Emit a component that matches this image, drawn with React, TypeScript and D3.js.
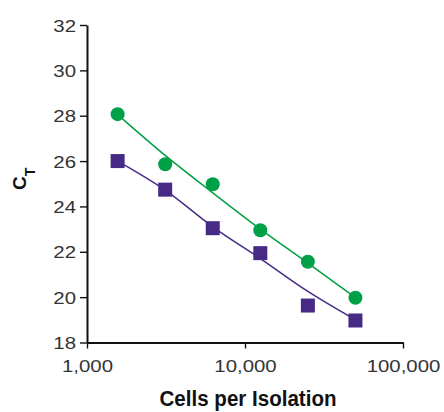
import React, { useEffect, useRef } from 'react';
import * as d3 from 'd3';

// cells per isolation (x, log scale)
const cells = [1562.5, 3125, 6250, 12500, 25000, 50000];
// measured CT values
const greenCt = [28.07, 25.86, 24.98, 22.95, 21.56, 19.97];
const purpleCt = [26.0, 24.74, 23.04, 21.94, 19.63, 18.97];
// fitted trend lines
const greenFit = [28.05, 26.25, 24.6, 23.0, 21.5, 19.98];
const purpleFit = [26.0, 24.72, 23.1, 21.7, 20.25, 19.0];

const xTicks = [1000, 10000, 100000];
const yTicks = [18, 20, 22, 24, 26, 28, 30, 32];

const GREEN = '#00a046';
const PURPLE = '#472a86';
const FONT = '"Liberation Sans", Arial, sans-serif';

const App = () => {
  const svgRef = useRef<SVGSVGElement>(null);

  useEffect(() => {
    const svg = d3.select(svgRef.current);
    svg.selectAll('*').remove();

    const x = d3.scaleLog().domain([1000, 100000]).range([87, 403]);
    const y = d3.scaleLinear().domain([18, 32]).range([342.5, 25]);

    // axes
    const xAxis = svg.append('g')
      .attr('transform', 'translate(0,342.5)')
      .call(d3.axisBottom(x).tickValues(xTicks).tickFormat(d3.format(',')).tickSize(6).tickSizeOuter(0).tickPadding(11));
    const yAxis = svg.append('g')
      .attr('transform', 'translate(87,0)')
      .call(d3.axisLeft(y).tickValues(yTicks).tickSize(7).tickSizeOuter(0).tickPadding(4));

    [xAxis, yAxis].forEach(ax => {
      ax.select('.domain').attr('stroke', '#111').attr('stroke-width', 2);
      ax.selectAll('.tick line').attr('stroke', '#111').attr('stroke-width', 1.4);
      ax.selectAll('.tick text')
        .attr('font-family', FONT)
        .attr('font-size', 17)
        .attr('fill', '#333');
    });
    // labels in the reference are a touch wider than Liberation Sans
    yAxis.selectAll('.tick text')
      .attr('dy', '0.36em')
      .attr('x', -11 / 1.2)
      .attr('transform', 'scale(1.2,1)');
    xAxis.selectAll('.tick text')
      .attr('transform', 'scale(1.2,1)');

    const line = d3.line<number>()
      .x((_, i) => x(cells[i]))
      .y(d => y(d))
      .curve(d3.curveMonotoneX);

    svg.append('path')
      .attr('d', line(greenFit))
      .attr('fill', 'none')
      .attr('stroke', GREEN)
      .attr('stroke-width', 1.5);
    svg.append('path')
      .attr('d', line(purpleFit))
      .attr('fill', 'none')
      .attr('stroke', PURPLE)
      .attr('stroke-width', 1.5);

    svg.append('g').selectAll('rect')
      .data(purpleCt)
      .join('rect')
      .attr('x', (_, i) => x(cells[i]) - 7)
      .attr('y', d => y(d) - 7)
      .attr('width', 14)
      .attr('height', 14)
      .attr('fill', PURPLE);

    svg.append('g').selectAll('circle')
      .data(greenCt)
      .join('circle')
      .attr('cx', (_, i) => x(cells[i]))
      .attr('cy', d => y(d))
      .attr('r', 7)
      .attr('fill', GREEN);

    // axis titles
    svg.append('text')
      .attr('x', 248)
      .attr('y', 406)
      .attr('text-anchor', 'middle')
      .attr('font-family', FONT)
      .attr('font-weight', 'bold')
      .attr('font-size', 22)
      .attr('fill', '#111')
      .attr('textLength', 177)
      .attr('lengthAdjust', 'spacingAndGlyphs')
      .text('Cells per Isolation');

    const yt = svg.append('text')
      .attr('transform', 'translate(26,190) rotate(-90)')
      .attr('font-family', FONT)
      .attr('font-weight', 'bold')
      .attr('fill', '#111');
    yt.append('tspan').attr('font-size', 19).text('C');
    yt.append('tspan').attr('font-size', 14).attr('dy', 9).text('T');
  }, []);

  return (
    <svg
      ref={svgRef}
      width={444}
      height={412}
      style={{ position: 'absolute', left: 0, top: 0, background: '#fff' }}
    />
  );
};

export default App;
